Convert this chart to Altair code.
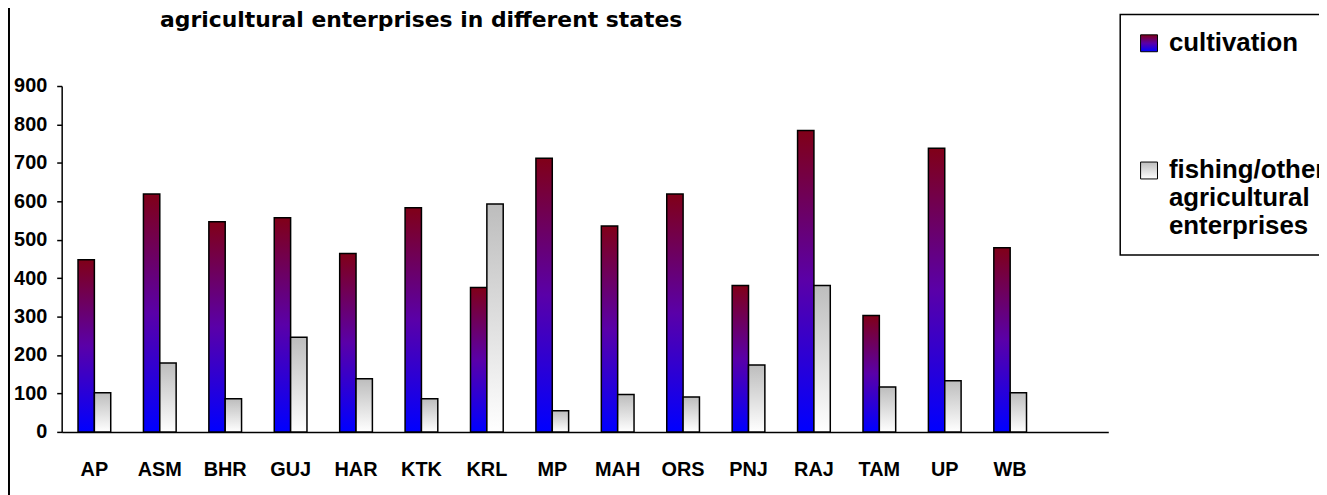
import altair as alt
import pandas as pd

states = ["AP", "ASM", "BHR", "GUJ", "HAR", "KTK", "KRL", "MP", "MAH", "ORS",
          "PNJ", "RAJ", "TAM", "UP", "WB"]
cultivation = [448, 619, 547, 557, 464, 583, 376, 712, 536, 619, 381, 784, 303, 738, 479]
fishing = [102, 179, 86, 246, 138, 86, 593, 55, 97, 91, 174, 381, 117, 133, 102]
series_names = ["cultivation", "fishing/other agricultural enterprises"]
title_text = "agricultural enterprises in different states"

rows = []
for s, c, f in zip(states, cultivation, fishing):
    rows.append({"state": s, "series": series_names[0], "value": c})
    rows.append({"state": s, "series": series_names[1], "value": f})
df = pd.DataFrame(rows)

x_domain = states + [" "]
FONT = "Liberation Sans"

grad_range = [
    alt.ExprRef(expr=(
        "{gradient:'linear',x1:0,y1:1,x2:0,y2:0,"
        "stops:[{offset:0,color:'#0000ff'},{offset:0.5,color:'#5a00a8'},{offset:1,color:'#800018'}]}")),
    alt.ExprRef(expr=(
        "{gradient:'linear',x1:0,y1:1,x2:0,y2:0,"
        "stops:[{offset:0,color:'#ffffff'},{offset:1,color:'#bdbdbd'}]}")),
]

bars = alt.Chart(df).mark_bar(stroke="black", strokeWidth=1.5).encode(
    x=alt.X("state:N", sort=x_domain,
            scale=alt.Scale(domain=x_domain, paddingInner=0, paddingOuter=0),
            axis=alt.Axis(title=None, labelAngle=0, ticks=False, tickSize=0,
                          labelPadding=44, labelBaseline="alphabetic",
                          labelFont=FONT, labelFontSize=20, labelFontWeight="bold",
                          labelColor="black", domainColor="black", domainWidth=1.5)),
    xOffset=alt.XOffset("series:N", scale=alt.Scale(domain=series_names,
                                                    paddingInner=0, paddingOuter=1)),
    y=alt.Y("value:Q", scale=alt.Scale(domain=[0, 900], nice=False),
            axis=alt.Axis(title=None, values=list(range(0, 1000, 100)), grid=False,
                          tickSize=5, tickWidth=1.5, tickColor="black",
                          domainColor="black", domainWidth=1.5,
                          labelPadding=10, labelFont=FONT, labelFontSize=20,
                          labelFontWeight="bold", labelColor="black")),
    color=alt.Color("series:N", scale=alt.Scale(domain=series_names, range=grad_range),
                    legend=alt.Legend(orient="none", legendX=1065, legendY=-72,
                                      title=None, strokeColor="black",
                                      padding=16, symbolType="square", symbolSize=289,
                                      symbolStrokeColor="black", symbolStrokeWidth=1,
                                      labelFont=FONT, labelFontSize=26,
                                      labelFontWeight="bold", labelColor="black",
                                      labelLimit=400, labelOffset=7,
                                      labelBaseline="middle", rowPadding=102,
                                      labelExpr="datum.label == 'cultivation' ? 'cultivation' : ['fishing/other', 'agricultural', 'enterprises']")),
)

frame = alt.Chart(alt.Data(values=[{}])).mark_rule(color="black", strokeWidth=2).encode(
    x=alt.value(-53), y=alt.value(-80), y2=alt.value(420)
)

title = alt.Chart(alt.Data(values=[{"t": title_text}])).mark_text(
    align="left", baseline="alphabetic", font="DejaVu Sans", fontSize=22, fontWeight="bold",
    color="black"
).encode(x=alt.value(99), y=alt.value(-59), text="t:N")

chart = alt.layer(frame, title, bars).properties(
    width=1053, height=348,
    background="white",
    view=alt.ViewBackground(stroke="transparent", strokeWidth=0),
    autosize=alt.AutoSizeParams(type="none"),
    padding={"left": 54, "top": 77, "right": 212, "bottom": 62},
).configure_view(stroke="transparent", strokeWidth=0).configure_legend(strokeWidth=1.5)

chart.save("out.html", embed_options={"renderer": "svg", "actions": False})
